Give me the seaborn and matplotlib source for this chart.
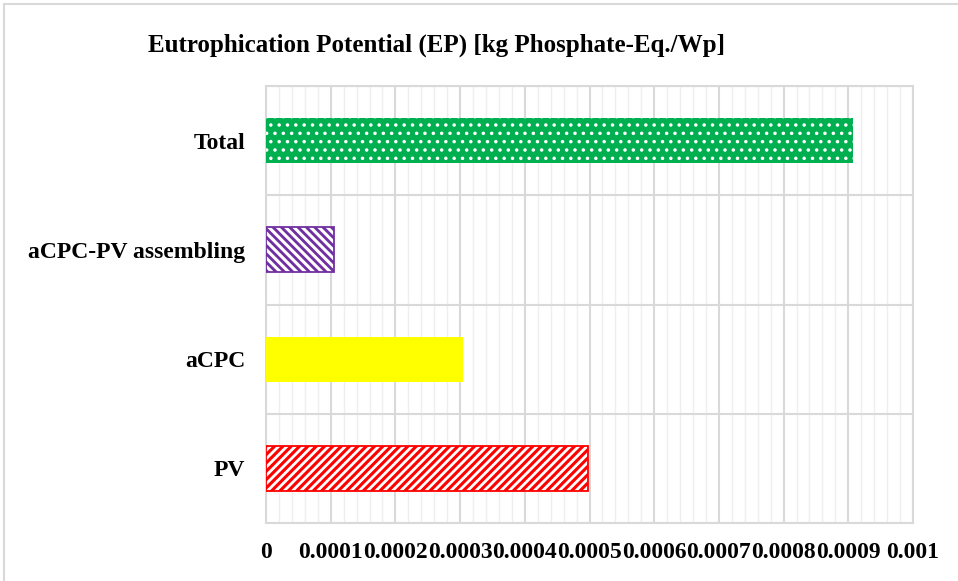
import matplotlib
matplotlib.use("Agg")
import matplotlib.pyplot as plt
from matplotlib.patches import Rectangle
from matplotlib.ticker import FixedLocator, MultipleLocator
import seaborn as sns
import pandas as pd

# Eutrophication potential per contributor [kg phosphate-eq. per Wp]
categories = ["Total", "aCPC-PV assembling", "aCPC", "PV"]
values = [0.000907, 0.000105, 0.000305, 0.000497]
colors = ["#00B050", "#7030A0", "#FFFF00", "#FF0000"]
hatches = ["..", "\\\\\\\\", "", "////"]
hatch_widths = [1.3, 2.2, 0, 2.0]
x_ticks = [0, 0.0001, 0.0002, 0.0003, 0.0004, 0.0005, 0.0006, 0.0007, 0.0008, 0.0009, 0.001]
x_tick_labels = ["0", "0.0001", "0.0002", "0.0003", "0.0004", "0.0005",
                 "0.0006", "0.0007", "0.0008", "0.0009", "0.001"]
title = "Eutrophication Potential (EP) [kg Phosphate-Eq./Wp]"

sns.set_theme(style="white")
plt.rcParams["font.family"] = ["Liberation Serif", "DejaVu Serif"]
plt.rcParams["hatch.linewidth"] = 2.0

df = pd.DataFrame({"category": categories, "value": values})

fig = plt.figure(figsize=(9.58, 5.81), dpi=100)
# chart-area frame
fig.patches.append(Rectangle((4 / 958, -0.05), 1.2, 1 - 4 / 581 + 0.05,
                             transform=fig.transFigure, fill=False,
                             edgecolor="#D9D9D9", linewidth=1.5, zorder=0))
ax = fig.add_axes([266 / 958, 1 - 523 / 581, (913 - 266) / 958, (523 - 86) / 581])

sns.barplot(data=df, x="value", y="category", hue="category", palette=colors,
            order=categories, hue_order=categories, legend=False, width=0.41,
            saturation=1, ax=ax, zorder=3)

for patch, color, hatch, hw in zip(ax.patches, colors, hatches, hatch_widths):
    patch.set_facecolor(color)
    if hatch:
        patch.set_hatch(hatch)
        patch.set_edgecolor("white")
        if hasattr(patch, "set_hatch_linewidth"):
            patch.set_hatch_linewidth(hw)
    patch.set_linewidth(0)

# coloured outlines around the striped bars
for i, (v, color, hatch) in enumerate(zip(values, colors, hatches)):
    if hatch and hatch[0] != ".":
        ax.barh(i, v, height=0.41, fill=False, edgecolor=color, linewidth=1.3, zorder=4)

ax.set_xlim(0, 0.001)
ax.set_ylim(3.5, -0.5)
ax.xaxis.set_major_locator(FixedLocator(x_ticks))
ax.set_xticklabels(x_tick_labels)
ax.xaxis.set_minor_locator(MultipleLocator(0.00002))
ax.yaxis.set_minor_locator(FixedLocator([-0.5, 0.5, 1.5, 2.5, 3.5]))

ax.grid(True, which="major", axis="x", color="#D9D9D9", linewidth=1.5, zorder=1)
ax.grid(True, which="minor", axis="x", color="#EFEFEF", linewidth=1.0, zorder=0.5)
ax.grid(True, which="minor", axis="y", color="#D9D9D9", linewidth=1.5, zorder=1)
ax.grid(False, which="major", axis="y")
ax.set_axisbelow(True)

for side in ["top", "right", "bottom", "left"]:
    ax.spines[side].set_visible(True)
    ax.spines[side].set_color("#D9D9D9")
    ax.spines[side].set_linewidth(1.5)

ax.tick_params(axis="both", which="both", length=0)
ax.tick_params(axis="x", pad=14)
ax.tick_params(axis="y", pad=15)
for lab in ax.get_xticklabels() + ax.get_yticklabels():
    lab.set_fontweight("bold")
    lab.set_fontsize(17)
    lab.set_color("black")

ax.set_xlabel("")
ax.set_ylabel("")
fig.text(437 / 958, 1 - 45 / 581, title, ha="center", va="center",
         fontsize=18, fontweight="bold", color="black")

fig.savefig("out.png", dpi=100, facecolor="white")
